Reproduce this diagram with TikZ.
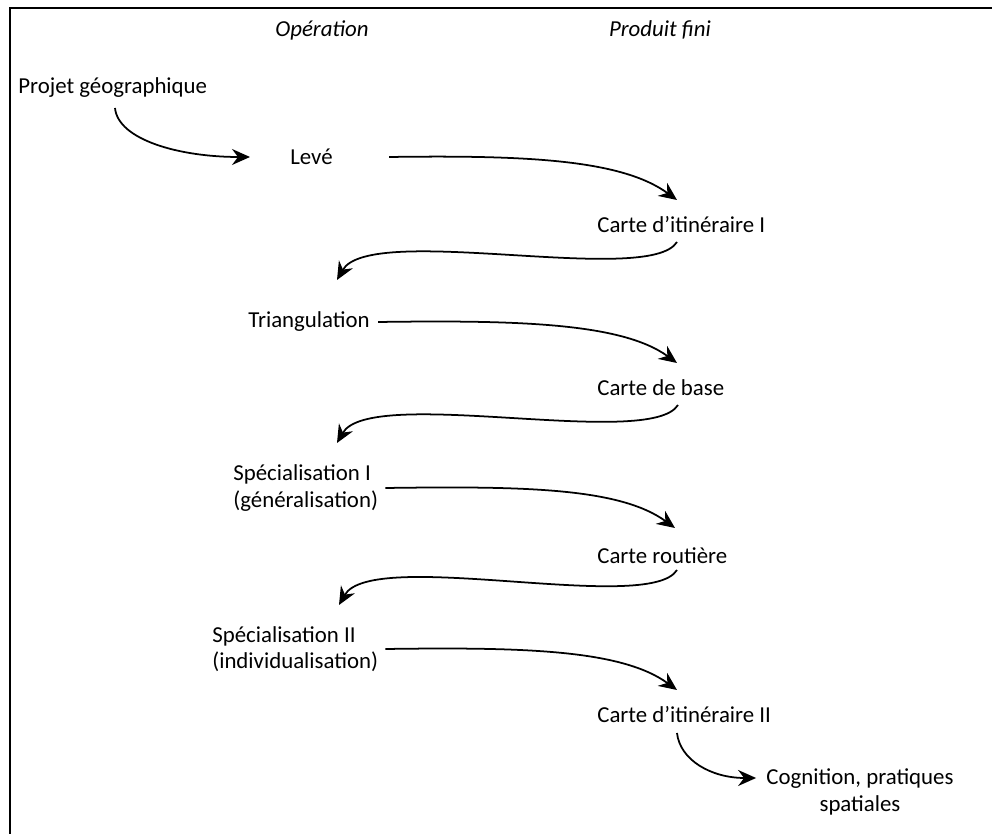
\documentclass[tikz,border=0pt]{standalone}
\usepackage{fontspec}
\setmainfont{Carlito}
\usetikzlibrary{arrows.meta}

\begin{document}
\begin{tikzpicture}[
    x=0.02cm, y=-0.02cm,
    every node/.style={font=\fontsize{13}{15}\selectfont, inner sep=0pt},
    lbl/.style={anchor=west},
    two/.style={anchor=west, align=left},
    head/.style={font=\fontsize{13}{15}\selectfont\itshape},
    arr/.style={-{Stealth[length=3.6mm, width=3.2mm, inset=1.2mm]}, line width=1pt},
    back/.style={arr},
]
\useasboundingbox (0,0) rectangle (992,834);
\draw[line width=1.1pt] (10,850) -- (10,8) -- (1010,8);

\node[head] (op) at (322,30) {Opération};
\node[head] (prod) at (660,30) {Produit fini};

\node[lbl] (projet) at (18,88) {Projet géographique};
\node[lbl] (leve) at (290,157) {Levé};
\node[lbl] (carteI) at (597,225) {Carte d’itinéraire I};
\node[lbl] (tri) at (248,322) {Triangulation};
\node[lbl] (base) at (597,388) {Carte de base};
\node[two] (specI) at (233,488) {Spécialisation I\\(généralisation)};
\node[lbl] (route) at (597,556) {Carte routière};
\node[two] (specII) at (212,649) {Spécialisation II\\(individualisation)};
\node[lbl] (carteII) at (597,715) {Carte d’itinéraire II};
\node[align=center] (cog) at (860,792) {Cognition, pratiques\\spatiales};

% operation -> produit
\draw[arr] ([shift={(97,20)}]projet.west) .. controls +(3,32) and +(-70,0) .. ([shift={(-40,0)}]leve.west);
\draw[arr] ([shift={(56,0)}]leve.east) .. controls +(140,-2) and +(-55,-40) .. ([shift={(80,-25)}]carteI.west);
\draw[arr] ([shift={(8,0)}]tri.east) .. controls +(140,-2) and +(-55,-40) .. ([shift={(80,-25)}]base.west);
\draw[arr] ([shift={(7,0)}]specI.east) .. controls +(140,-2) and +(-55,-40) .. ([shift={(78,-28)}]route.west);
\draw[arr] ([shift={(7,0)}]specII.east) .. controls +(140,-2) and +(-55,-40) .. ([shift={(80,-25)}]carteII.west);

% produit -> operation
\draw[back] ([shift={(80,17)}]carteI.west) .. controls +(-28,45) and +(33,-58) .. ([shift={(89,-42)}]tri.west);
\draw[back] ([shift={(81,17)}]base.west) .. controls +(-28,45) and +(33,-58) .. ([shift={(104,-45)}]specI.west);
\draw[back] ([shift={(80,14)}]route.west) .. controls +(-28,45) and +(33,-58) .. ([shift={(127,-44)}]specII.west);
\draw[arr] ([shift={(80,18)}]carteII.west) .. controls +(3,27) and +(-45,0) .. ([shift={(-10,-14)}]cog.west);

\end{tikzpicture}
\end{document}
